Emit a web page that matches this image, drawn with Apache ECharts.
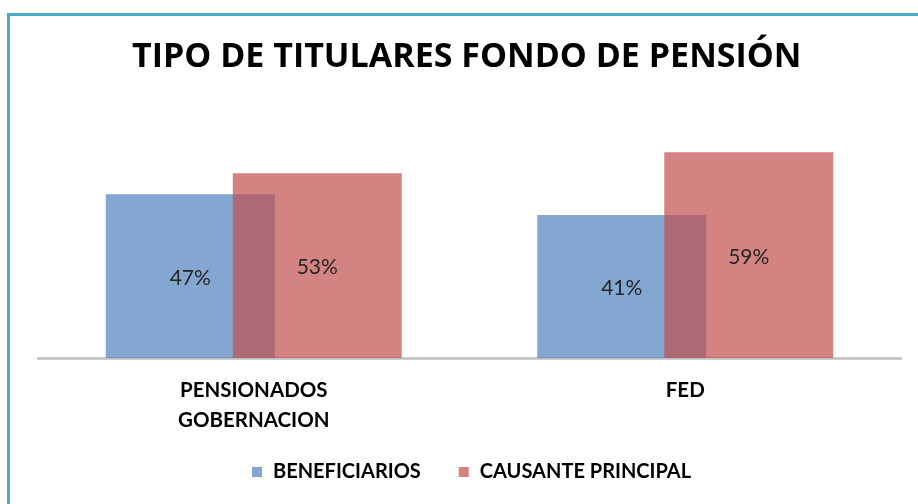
<!DOCTYPE html>
<html>
<head>
<meta charset="utf-8">
<script src="https://cdn.jsdelivr.net/npm/echarts@6/dist/echarts.min.js"></script>
<style>
  html, body { margin: 0; padding: 0; background: #fff; }
  #chart { width: 918px; height: 504px; }
</style>
</head>
<body>
<div id="chart"></div>
<script>
// 数据
var categories = ['PENSIONADOS\nGOBERNACION', 'FED'];
var beneficiarios = [47, 41];
var causantePrincipal = [53, 59];
var seriesNames = ['BENEFICIARIOS', 'CAUSANTE PRINCIPAL'];

var chart = echarts.init(document.getElementById('chart'));

var labelStyle = {
  show: true,
  position: 'inside',
  offset: [0, 2],
  formatter: '{c}%',
  color: '#262626',
  fontFamily: 'Lato',
  fontSize: 21
};

chart.setOption({
  backgroundColor: '#fff',
  animation: false,
  title: {
    text: 'TIPO DE TITULARES FONDO DE PENSIÓN',
    left: 127,
    top: 35,
    textStyle: {
      fontFamily: 'Open Sans',
      fontWeight: 'bold',
      fontSize: 34,
      color: '#000'
    }
  },
  legend: {
    data: seriesNames,
    bottom: 17,
    left: 247,
    itemWidth: 10,
    itemHeight: 10,
    itemGap: 38,
    icon: 'rect',
    textStyle: {
      fontFamily: 'Lato',
      fontWeight: 'bold',
      fontSize: 20,
      color: '#000',
      padding: [0, 0, 0, 6]
    }
  },
  grid: {
    left: 38,
    right: 17,
    top: 114,
    bottom: 504 - 358
  },
  xAxis: {
    type: 'category',
    data: categories,
    axisTick: { show: false },
    axisLine: { lineStyle: { color: '#BFBFBF', width: 2.5 } },
    axisLabel: {
      margin: 17,
      lineHeight: 30,
      fontFamily: 'Lato',
      fontWeight: 'bold',
      fontSize: 20.5,
      color: '#000'
    }
  },
  yAxis: {
    type: 'value',
    min: 0,
    max: 70,
    show: false,
    splitLine: { show: false }
  },
  graphic: [
    {
      type: 'polyline',
      shape: { points: [[8.5, 504], [8.5, 14.5], [918, 14.5]] },
      style: { stroke: '#4BACC6', lineWidth: 3, fill: null },
      silent: true
    }
  ],
  series: [
    {
      name: seriesNames[0],
      type: 'bar',
      data: beneficiarios,
      barWidth: 169,
      barGap: '-24.85%',
      itemStyle: { color: 'rgba(79, 129, 189, 0.7)' },
      label: labelStyle
    },
    {
      name: seriesNames[1],
      type: 'bar',
      data: causantePrincipal,
      barWidth: 169,
      barGap: '-24.85%',
      itemStyle: { color: 'rgba(192, 80, 77, 0.7)' },
      label: labelStyle
    }
  ]
});
</script>
</body>
</html>
